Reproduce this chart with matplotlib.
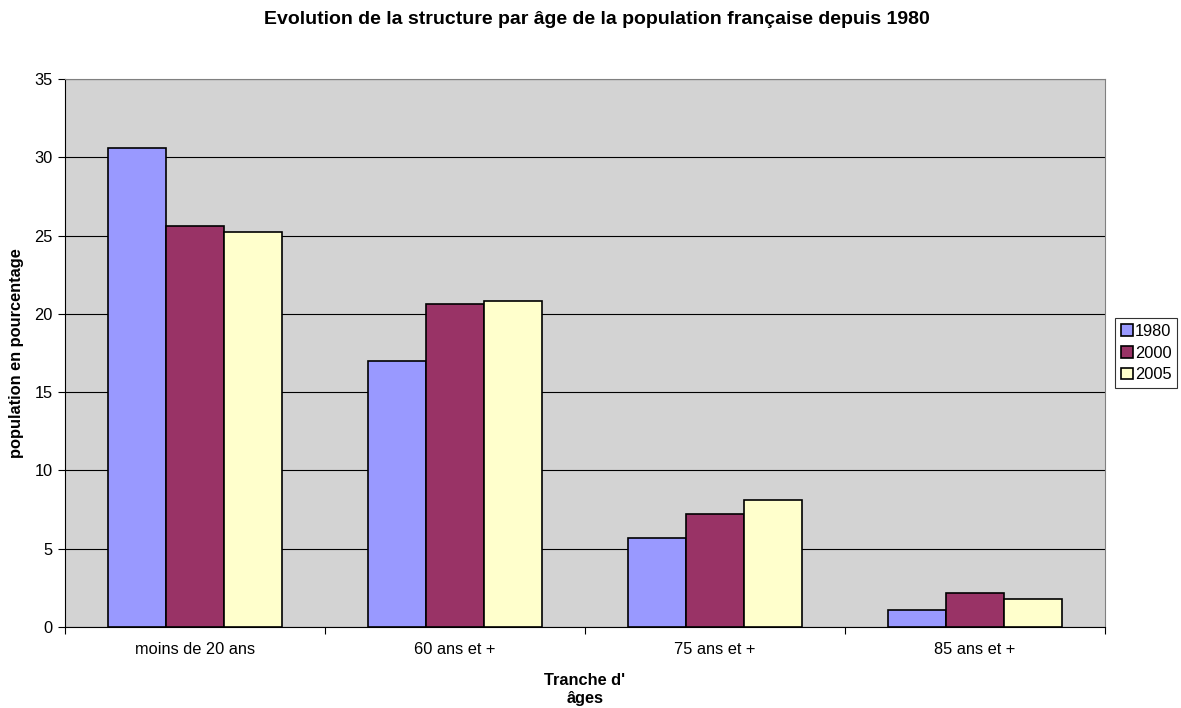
import numpy as np
import matplotlib.pyplot as plt

plt.rcParams['font.family'] = ['Liberation Sans', 'DejaVu Sans']

categories = ["moins de 20 ans", "60 ans et +", "75 ans et +", "85 ans et +"]
years = ["1980", "2000", "2005"]
v1980 = [30.6, 17.0, 5.7, 1.1]
v2000 = [25.6, 20.6, 7.2, 2.2]
v2005 = [25.2, 20.8, 8.1, 1.8]
colors = ["#9999FF", "#993366", "#FFFFCC"]

fig = plt.figure(figsize=(11.81, 7.08), dpi=100)
ax = fig.add_axes([0.055, 0.1144, 0.8807, 0.774])
ax.set_facecolor("#D3D3D3")

x = np.arange(len(categories))
w = 0.223
for i, (vals, c, lab) in enumerate(zip([v1980, v2000, v2005], colors, years)):
    ax.bar(x + (i - 1) * w, vals, w, color=c, edgecolor="black", linewidth=1.2,
           label=lab, zorder=3)

ax.set_xlim(-0.5, 3.5)
ax.set_ylim(0, 35)
ax.set_yticks(np.arange(0, 36, 5))
ax.yaxis.grid(True, color="black", linewidth=0.8, zorder=1)
ax.set_axisbelow(True)

ax.set_xticks(np.arange(-0.5, 4, 1))
ax.set_xticklabels([])
ax.set_xticks(x, minor=True)
ax.set_xticklabels(categories, minor=True, fontsize=11.8)
ax.tick_params(axis="x", which="minor", length=0, pad=11)
ax.tick_params(axis="x", which="major", direction="out", length=5)
ax.tick_params(axis="y", direction="out", length=5, labelsize=11.8, pad=4)

ax.spines["top"].set_color("#808080")
ax.spines["right"].set_color("#808080")

ax.set_ylabel("population en pourcentage", fontsize=11.8, fontweight="bold", labelpad=7)
ax.set_xlabel("Tranche d'\nâges", fontsize=11.8, fontweight="bold", labelpad=11,
              linespacing=1.3)
fig.text(0.505, 1 - 19 / 708, "Evolution de la structure par âge de la population française depuis 1980",
         fontsize=14, fontweight="bold", ha="center", va="center")

leg = ax.legend(loc="center left", bbox_to_anchor=(1.01, 0.5), fontsize=11.8,
                frameon=True, fancybox=False, edgecolor="black",
                handlelength=0.7, handleheight=0.7, handletextpad=0.15,
                borderpad=0.35, labelspacing=0.4, borderaxespad=0)
leg.get_frame().set_linewidth(0.8)

fig.savefig("out.png", dpi=100, facecolor="white")
